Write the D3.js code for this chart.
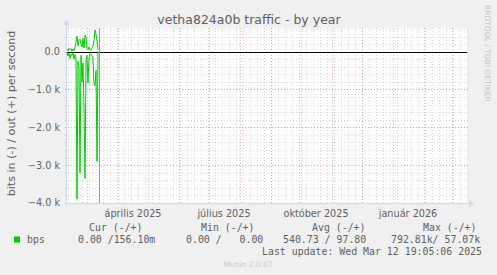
<!DOCTYPE html>
<html>
<head>
<meta charset="utf-8">
<script src="https://cdn.jsdelivr.net/npm/d3@7.9.0/dist/d3.min.js"></script>
<style>
    html, body { margin: 0; padding: 0; background: #f0f0f0; }
    svg { display: block; }
    text { font-family: "DejaVu Sans", sans-serif; fill: #606060; }
    .mono { font-family: "DejaVu Sans Mono", monospace; font-size: 9.9px; white-space: pre; }
</style>
</head>
<body>
<svg id="chart" width="497" height="275"></svg>
<script>
// daily samples, first one on startDay
const startDay = '2025-02-09';
const lastUpdate = '2025-03-12T19:05:06Z';
const viewStart = '2025-02-09T00:00:00Z';
const viewEnd = '2026-03-16T00:00:00Z';

// bits per second, "in" is drawn below zero
const bpsIn = [20, 120, 40, 180, 60, 100, 30, 200, 80, 150, 3900, 250, 400, 3200, 100, 800,
    300, 1500, 3350, 200, 100, 830, 150, 50, 80, 100, 150, 880, 900, 500, 2900, 0];
const bpsOut = [60, 20, 90, 50, 80, 10, 70, 30, 100, 250, 410, 150, 300, 330, 200, 120,
    350, 100, 440, 380, 80, 50, 120, 60, 40, 90, 150, 300, 570, 450, 300, 50];

const yTicks = [-4000, -3000, -2000, -1000, 0];
const quarterMonths = [3, 6, 9, 0];
const huMonths = ['január', 'február', 'március', 'április', 'május', 'június', 'július',
    'augusztus', 'szeptember', 'október', 'november', 'december'];

const legendHead = ['Cur (-/+)', 'Min (-/+)', 'Avg (-/+)', 'Max (-/+)'];
const legendVals = ['0.00 /156.10m', '0.00 /   0.00', '540.73 / 97.80', '792.81k/ 57.07k'];

const plotL = 67, plotR = 467, plotT = 28, plotB = 203;
const svg = d3.select('#chart');

svg.append('rect').attr('width', 497).attr('height', 275).attr('fill', '#f0f0f0');
svg.append('rect')
    .attr('x', plotL).attr('y', plotT)
    .attr('width', plotR - plotL).attr('height', plotB - plotT)
    .attr('fill', '#ffffff');

let x = d3.scaleUtc()
    .domain([new Date(viewStart), new Date(viewEnd)])
    .range([plotL, plotR]);
let y = d3.scaleLinear()
    .domain([-4000, 625])
    .range([plotB, plotT]);

let grid = svg.append('g');
const minorColor = 'rgba(150,150,150,0.35)';
const majorColor = 'rgba(225,90,90,0.45)';

// minor grid
d3.range(-4000, 601, 200).forEach((v) => {
    grid.append('line')
        .attr('x1', plotL - 2).attr('x2', plotR + 2)
        .attr('y1', Math.round(y(v)) + 0.5).attr('y2', Math.round(y(v)) + 0.5)
        .attr('stroke', minorColor)
        .attr('stroke-dasharray', '1,2');
});
d3.utcMonday.range(x.domain()[0], x.domain()[1]).forEach((d) => {
    grid.append('line')
        .attr('x1', Math.round(x(d)) + 0.5).attr('x2', Math.round(x(d)) + 0.5)
        .attr('y1', plotT).attr('y2', plotB + 2)
        .attr('stroke', minorColor)
        .attr('stroke-dasharray', '1,2');
});

// major grid
yTicks.forEach((v) => {
    grid.append('line')
        .attr('x1', plotL - 2).attr('x2', plotR + 2)
        .attr('y1', Math.round(y(v)) + 0.5).attr('y2', Math.round(y(v)) + 0.5)
        .attr('stroke', majorColor)
        .attr('stroke-dasharray', '1,2');
});
d3.utcMonth.range(x.domain()[0], x.domain()[1]).forEach((d) => {
    grid.append('line')
        .attr('x1', Math.round(x(d)) + 0.5).attr('x2', Math.round(x(d)) + 0.5)
        .attr('y1', plotT).attr('y2', plotB + 2)
        .attr('stroke', majorColor)
        .attr('stroke-dasharray', '1,2');
});

// axes
const axisColor = '#cfd6f8';
svg.append('line')
    .attr('x1', plotL - 3).attr('x2', plotR + 3)
    .attr('y1', plotB + 0.5).attr('y2', plotB + 0.5)
    .attr('stroke', axisColor);
svg.append('line')
    .attr('x1', plotL - 0.5).attr('x2', plotL - 0.5)
    .attr('y1', plotB + 3).attr('y2', plotT - 4)
    .attr('stroke', axisColor);
svg.append('path')
    .attr('d', `M${plotR + 2},${plotB - 3}L${plotR + 7},${plotB + 0.5}L${plotR + 2},${plotB + 4}Z`)
    .attr('fill', axisColor);
svg.append('path')
    .attr('d', `M${plotL - 4},${plotT - 3}L${plotL - 0.5},${plotT - 8}L${plotL + 3},${plotT - 3}Z`)
    .attr('fill', axisColor);

// y labels
svg.append('g').selectAll('text')
    .data(yTicks)
    .join('text')
    .attr('x', 60)
    .attr('y', (d) => y(d))
    .attr('dy', '0.36em')
    .attr('text-anchor', 'end')
    .attr('font-size', '9.7px')
    .text((d) => d === 0 ? '0.0' : d3.format('.1f')(d / 1000) + ' k');

// x labels, centered in the middle of the month
let labelMonths = d3.utcMonth.range(x.domain()[0], x.domain()[1])
    .filter((d) => quarterMonths.includes(d.getUTCMonth()));
svg.append('g').selectAll('text')
    .data(labelMonths)
    .join('text')
    .attr('x', (d) => x(d3.utcDay.offset(d, 15)))
    .attr('y', 217)
    .attr('text-anchor', 'middle')
    .attr('font-size', '9.7px')
    .text((d) => `${huMonths[d.getUTCMonth()]} ${d.getUTCFullYear()}`);

// zero line
svg.append('line')
    .attr('x1', plotL).attr('x2', plotR)
    .attr('y1', Math.round(y(0)) + 0.5).attr('y2', Math.round(y(0)) + 0.5)
    .attr('stroke', '#000000');

// data
let days = d3.utcDay.range(new Date(startDay), d3.utcDay.offset(new Date(startDay), bpsIn.length));
let line = d3.line()
    .x((d) => x(d[0]))
    .y((d) => y(d[1]));

svg.append('path')
    .datum(days.map((d, i) => [d, -bpsIn[i]]))
    .attr('d', line)
    .attr('fill', 'none')
    .attr('stroke', '#00cc00')
    .attr('stroke-width', 1);
svg.append('path')
    .datum(days.map((d, i) => [d, bpsOut[i]]))
    .attr('d', line)
    .attr('fill', 'none')
    .attr('stroke', '#00cc00')
    .attr('stroke-width', 1);

// last update marker
let nowX = Math.round(x(new Date(lastUpdate))) + 0.5;
svg.append('line')
    .attr('x1', nowX).attr('x2', nowX)
    .attr('y1', plotT).attr('y2', plotB)
    .attr('stroke', '#999999');

// titles
svg.append('text')
    .attr('x', 249).attr('y', 24)
    .attr('text-anchor', 'middle')
    .attr('font-size', '12.5px')
    .text('vetha824a0b traffic - by year');

svg.append('text')
    .attr('transform', 'translate(14.5,113.5) rotate(-90)')
    .attr('text-anchor', 'middle')
    .attr('font-size', '11.1px')
    .text('bits in (-) / out (+) per second');

svg.append('text')
    .attr('transform', 'translate(485,5) rotate(90)')
    .attr('font-size', '7.5px')
    .style('fill', '#c4c4c4')
    .text('RRDTOOL / TOBI OETIKER');

// legend
const headX = [89, 201, 312, 423];
const valX = [78, 186, 283, 391];
svg.append('g').selectAll('text')
    .data(legendHead)
    .join('text')
    .attr('class', 'mono')
    .attr('x', (d, i) => headX[i]).attr('y', 231)
    .text((d) => d);

svg.append('rect')
    .attr('x', 14).attr('y', 236.5)
    .attr('width', 6).attr('height', 6)
    .attr('fill', '#00cc00');
svg.append('text')
    .attr('class', 'mono')
    .attr('x', 27).attr('y', 243)
    .text('bps');
svg.append('g').selectAll('text')
    .data(legendVals)
    .join('text')
    .attr('class', 'mono')
    .attr('x', (d, i) => valX[i]).attr('y', 243)
    .text((d) => d);

svg.append('text')
    .attr('class', 'mono')
    .attr('x', 482).attr('y', 255)
    .attr('text-anchor', 'end')
    .text('Last update: Wed Mar 12 19:05:06 2025');

svg.append('text')
    .attr('x', 248).attr('y', 266.5)
    .attr('text-anchor', 'middle')
    .attr('font-size', '7.5px')
    .style('fill', '#c8c8c8')
    .text('Munin 2.0.67');
</script>
</body>
</html>
